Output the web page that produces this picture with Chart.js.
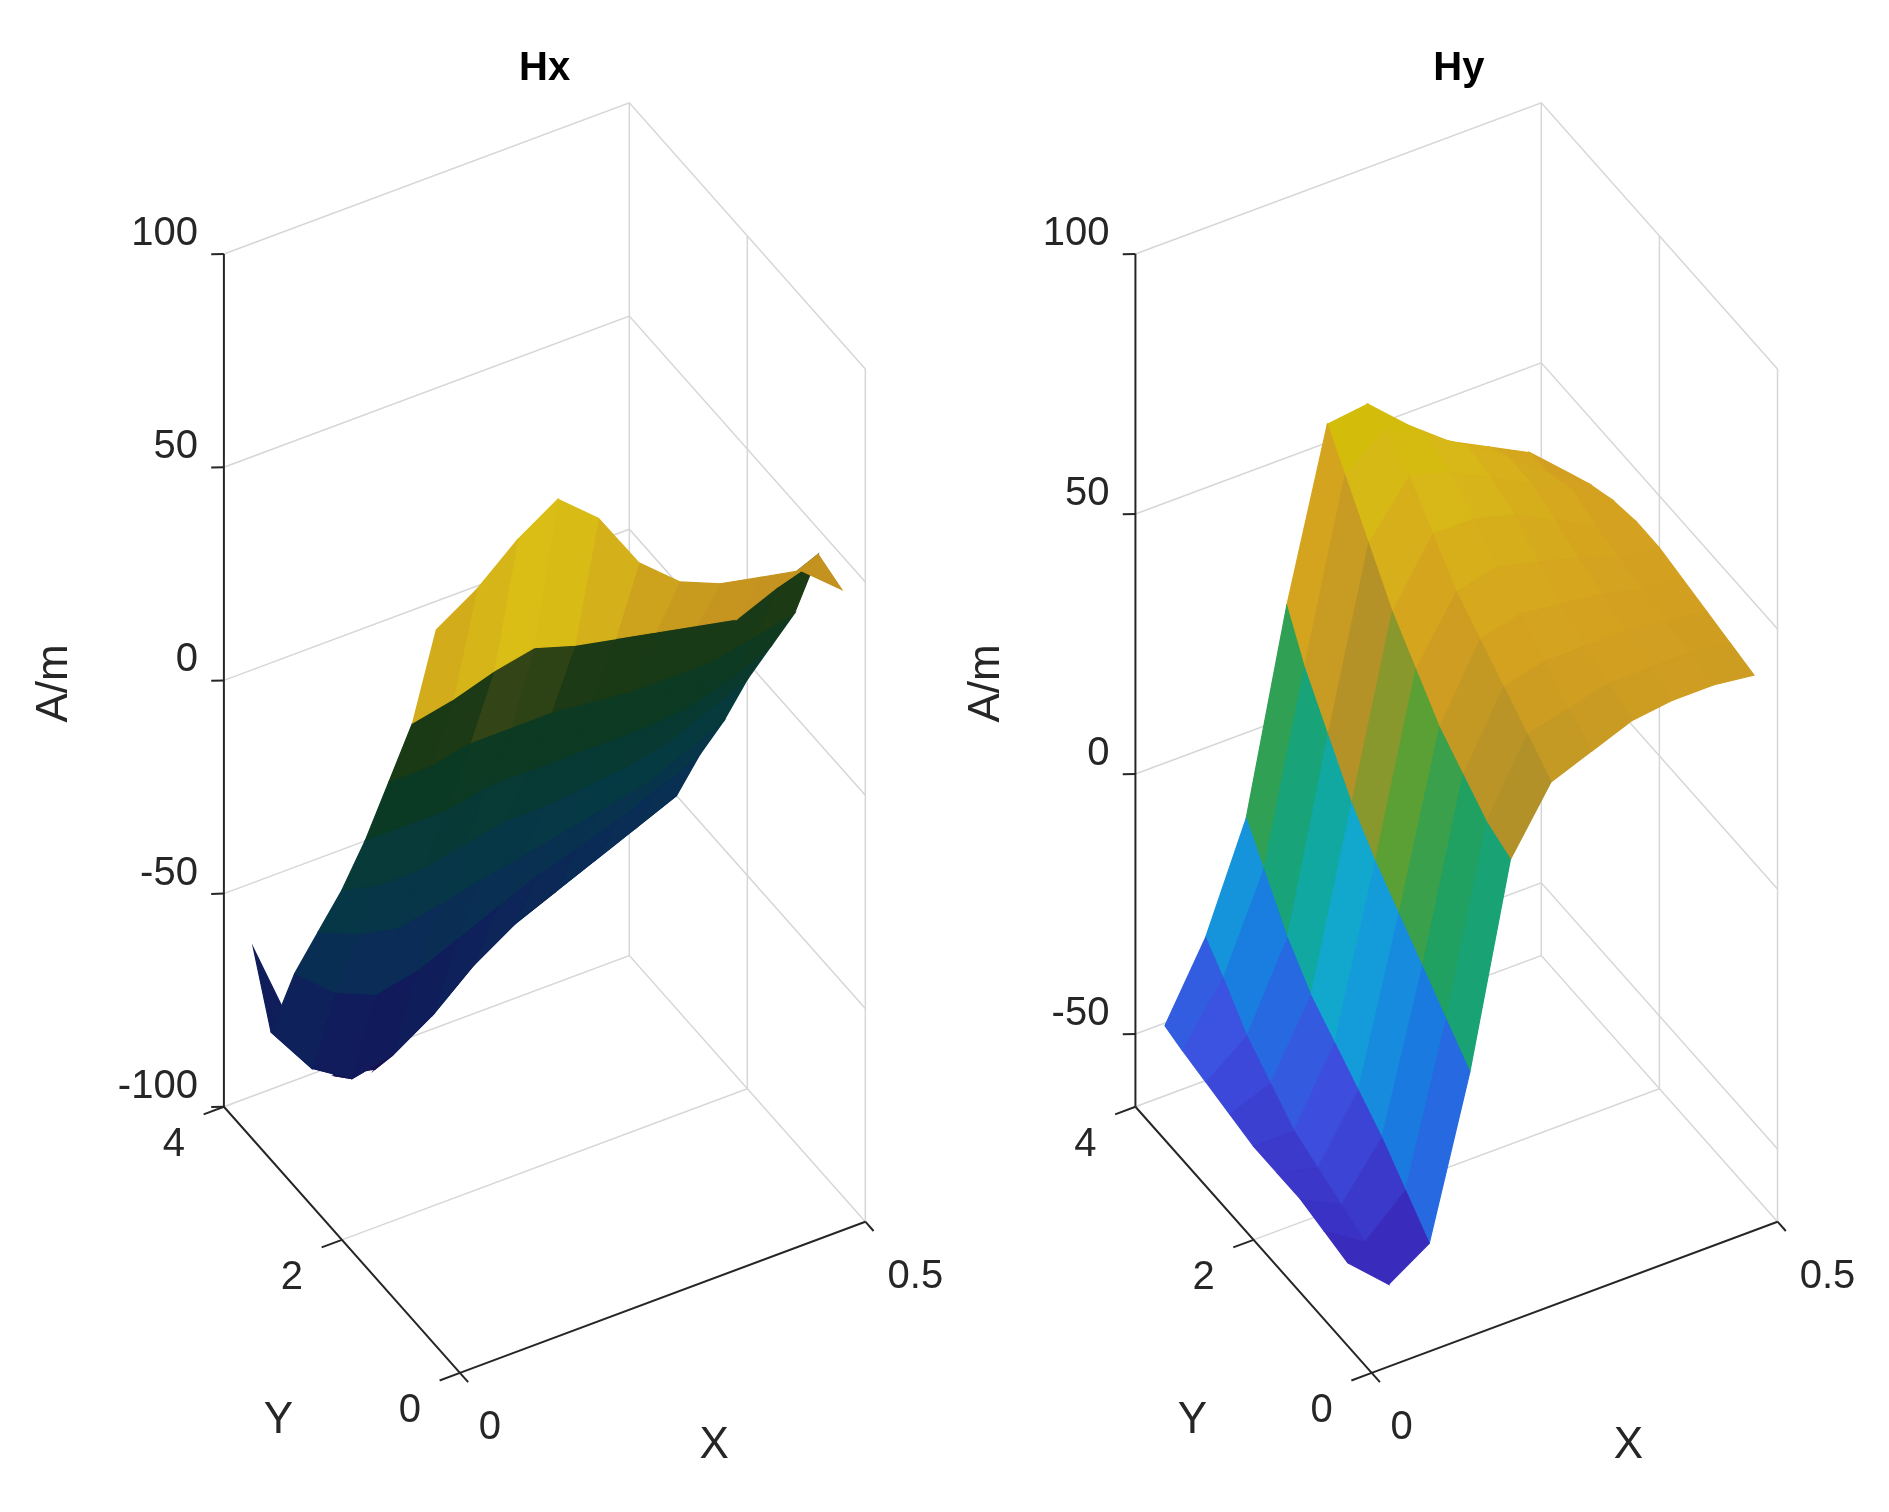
<!DOCTYPE html>
<html>
<head>
<meta charset="utf-8">
<script src="https://cdn.jsdelivr.net/npm/chart.js@4/dist/chart.umd.min.js"></script>
<style>
  body { margin: 0; background: #fff; overflow: hidden; }
  canvas { position: absolute; top: 0; }
  #hxChart { left: 0; }
  #hyChart { left: 944px; }
</style>
</head>
<body>
<canvas id="hxChart" width="944" height="1512"></canvas>
<canvas id="hyChart" width="945" height="1512"></canvas>
<script>
// grid of the surfaces
var xValues = [0, 0.05, 0.1, 0.15, 0.2, 0.25, 0.3, 0.35, 0.4, 0.45, 0.5];
var yValues = [0.4, 0.8, 1.2, 1.6, 2.0, 2.4, 2.8, 3.2, 3.5];

// Hx (A/m), one row per y value
var hxValues = [
  [68, 74, 82, 88, 80, 66, 58, 54, 52, 50, 42],
  [40, 42, 45, 47, 44, 42, 40, 38, 36, 40, 44],
  [20, 20, 22, 22, 22, 21, 20, 20, 20, 22, 24],
  [0, 0, 0, 2, 2, 2, 2, 2, 3, 6, 10],
  [-18, -20, -20, -18, -16, -16, -15, -14, -12, -8, -4],
  [-34, -38, -40, -38, -36, -34, -32, -30, -28, -24, -20],
  [-50, -58, -62, -60, -56, -52, -48, -45, -42, -38, -34],
  [-70, -82, -88, -86, -80, -72, -66, -62, -58, -54, -50],
  [-55, -78, -92, -94, -86, -78, -70, -65, -62, -59, -57]
];

// Hy (A/m)
var hyValues = [
  [-48, -55, -50, -20, 18, 30, 33, 36, 37, 37, 36],
  [-47, -52, -45, -15, 20, 34, 36, 38, 38, 38, 37],
  [-46, -50, -40, -10, 24, 38, 40, 40, 40, 39, 38],
  [-46, -48, -36, -5, 28, 42, 44, 43, 42, 40, 39],
  [-46, -46, -32, 0, 34, 46, 48, 46, 44, 41, 40],
  [-45, -42, -28, 6, 40, 52, 52, 50, 46, 42, 40],
  [-44, -38, -22, 14, 48, 58, 56, 52, 48, 44, 39],
  [-43, -32, -14, 22, 56, 62, 58, 53, 48, 42, 37],
  [-42, -28, -8, 30, 62, 63, 56, 50, 46, 42, 35]
];

var xTicks = [0, 0.5];
var yTicks = [0, 2, 4];
var hxZTicks = [-100, -50, 0, 50, 100];
var hyZTicks = [-50, 0, 50, 100];

var hxColors = [[-95, '#1b0c4a'], [-75, '#111a5c'], [-50, '#0a2c56'], [-20, '#053a42'], [10, '#0b3a24'], [33, '#1c3a14'], [40, '#c08a20'], [60, '#d6b41a'], [88, '#e8e000']];
var hyColors = [[-60, '#1c0d6a'], [-50, '#3a2ec0'], [-40, '#3d50e0'], [-28, '#1a78e0'], [-15, '#12a8d8'], [-5, '#10a890'], [5, '#20a060'], [15, '#60a030'], [25, '#b09028'], [40, '#d4a020'], [55, '#d8b818'], [65, '#d0c000']];

var xMax = 0.5, yMax = 4;

function hexToRgb(h) {
  return [parseInt(h.substr(1, 2), 16), parseInt(h.substr(3, 2), 16), parseInt(h.substr(5, 2), 16)];
}

function colorFor(stops, z) {
  if (z <= stops[0][0]) return stops[0][1];
  for (var i = 1; i < stops.length; i++) {
    if (z <= stops[i][0]) {
      var t = (z - stops[i - 1][0]) / (stops[i][0] - stops[i - 1][0]);
      var a = hexToRgb(stops[i - 1][1]), b = hexToRgb(stops[i][1]);
      return 'rgb(' + a.map(function(v, k) { return Math.round(v + (b[k] - v) * t); }).join(',') + ')';
    }
  }
  return stops[stops.length - 1][1];
}

function makePanel(canvasId, title, zValues, zTicks, zMin, zMax, stops, origin, labelPos) {
  function proj(X, Y, Z) {
    return {
      x: origin[0] + (X / xMax) * 335 - (Y / yMax) * 195,
      y: origin[1] - (X / xMax) * 125 - (Y / yMax) * 220 - (Z - zMin) / (zMax - zMin) * 705
    };
  }
  var layers = []; // drawn in this order

  function line(pts, color, width) {
    layers.push({ type: 'scatter', data: pts, showLine: true, borderColor: color, borderWidth: width, pointRadius: 0, fill: false });
  }
  var grey = '#d6d6d6';
  // back walls: z grid lines and box
  var zLines = zTicks.slice();
  if (zLines.indexOf(zMin) < 0) zLines.push(zMin);
  if (zLines.indexOf(zMax) < 0) zLines.push(zMax);
  zLines.forEach(function(z) {
    line([proj(0, yMax, z), proj(xMax, yMax, z), proj(xMax, 0, z)], grey, 1.5);
  });
  line([proj(xMax, yMax, zMin), proj(xMax, yMax, zMax)], grey, 1.5);
  line([proj(xMax, 0, zMin), proj(xMax, 0, zMax)], grey, 1.5);
  yTicks.forEach(function(y) {
    if (y > 0 && y < yMax) {
      line([proj(0, y, zMin), proj(xMax, y, zMin), proj(xMax, y, zMax)], grey, 1.5);
    }
  });

  // surface cells, far to near
  var cells = [];
  for (var j = 0; j < yValues.length - 1; j++) {
    for (var i = 0; i < xValues.length - 1; i++) {
      var xc = (xValues[i] + xValues[i + 1]) / 2, yc = (yValues[j] + yValues[j + 1]) / 2;
      var zAvg = (zValues[j][i] + zValues[j][i + 1] + zValues[j + 1][i] + zValues[j + 1][i + 1]) / 4;
      cells.push({
        depth: xc / xMax + 1.718 * yc / yMax,
        pts: [proj(xValues[i], yValues[j], zValues[j][i]), proj(xValues[i + 1], yValues[j], zValues[j][i + 1]),
              proj(xValues[i + 1], yValues[j + 1], zValues[j + 1][i + 1]), proj(xValues[i], yValues[j + 1], zValues[j + 1][i]),
              proj(xValues[i], yValues[j], zValues[j][i])],
        color: colorFor(stops, zAvg)
      });
    }
  }
  cells.sort(function(a, b) { return b.depth - a.depth; });
  cells.forEach(function(c) {
    layers.push({ type: 'scatter', data: c.pts, showLine: true, borderColor: c.color, backgroundColor: c.color, borderWidth: 1.2, pointRadius: 0, fill: 'shape' });
  });

  // axes
  line([proj(0, yMax, zMin), proj(0, yMax, zMax)], '#262626', 2);
  line([proj(0, yMax, zMin), proj(0, 0, zMin), proj(xMax, 0, zMin)], '#262626', 2);
  zTicks.forEach(function(z) { line([proj(0, yMax, z), proj(-0.012, yMax + 0.05, z)], '#262626', 2); });
  yTicks.forEach(function(y) { line([proj(0, y, zMin), proj(-0.025, y, zMin)], '#262626', 2); });
  xTicks.forEach(function(x) { line([proj(x, 0, zMin), proj(x, -0.14, zMin)], '#262626', 2); });

  layers.forEach(function(d, k) { d.order = layers.length - k; });

  var textPlugin = {
    id: 'texts',
    afterDraw: function(chart) {
      var ctx = chart.ctx, sx = chart.scales.x, sy = chart.scales.y;
      function px(p) { return [sx.getPixelForValue(p.x), sy.getPixelForValue(p.y)]; }
      ctx.save();
      ctx.fillStyle = '#262626';
      ctx.font = '40px "Liberation Sans", Arial, sans-serif';
      ctx.textBaseline = 'middle';
      ctx.textAlign = 'right';
      zTicks.forEach(function(z) {
        var p = px(proj(0, yMax, z));
        ctx.fillText(String(z), p[0] - 26, p[1] - 20);
      });
      ctx.textAlign = 'center';
      yTicks.forEach(function(y) {
        var p = px(proj(0, y, zMin));
        ctx.fillText(String(y), p[0] - 50, p[1] + 38);
      });
      xTicks.forEach(function(x) {
        var p = px(proj(x, 0, zMin));
        ctx.fillText(String(x), p[0] + (x > 0 ? 50 : 30), p[1] + 55);
      });
      ctx.font = '44px "Liberation Sans", Arial, sans-serif';
      var t = px({ x: labelPos.y[0], y: labelPos.y[1] });
      ctx.fillText('Y', t[0], t[1]);
      t = px({ x: labelPos.x[0], y: labelPos.x[1] });
      ctx.fillText('X', t[0], t[1]);
      t = px({ x: labelPos.z[0], y: labelPos.z[1] });
      ctx.save();
      ctx.translate(t[0], t[1]);
      ctx.rotate(-Math.PI / 2);
      ctx.fillText('A/m', 0, 0);
      ctx.restore();
      ctx.fillStyle = '#000';
      ctx.font = 'bold 40px "Liberation Sans", Arial, sans-serif';
      t = px({ x: labelPos.title[0], y: labelPos.title[1] });
      ctx.fillText(title, t[0], t[1]);
      ctx.restore();
    }
  };

  new Chart(document.getElementById(canvasId), {
    type: 'scatter',
    data: { datasets: layers },
    options: {
      responsive: false,
      devicePixelRatio: 1,
      animation: false,
      layout: { padding: 0 },
      scales: {
        x: { type: 'linear', display: false, min: 0, max: 780 },
        y: { type: 'linear', display: false, min: 0, max: 1250, reverse: true }
      },
      plugins: { legend: { display: false }, tooltip: { enabled: false } }
    },
    plugins: [textPlugin]
  });
}

makePanel('hxChart', 'Hx', hxValues, hxZTicks, -100, 100, hxColors, [380, 1135],
  { title: [450, 57], z: [45, 565], y: [230, 1175], x: [590, 1195] });
makePanel('hyChart', 'Hy', hyValues, hyZTicks, -64, 100, hyColors, [353, 1135],
  { title: [425, 57], z: [35, 565], y: [205, 1175], x: [565, 1195] });
</script>
</body>
</html>
